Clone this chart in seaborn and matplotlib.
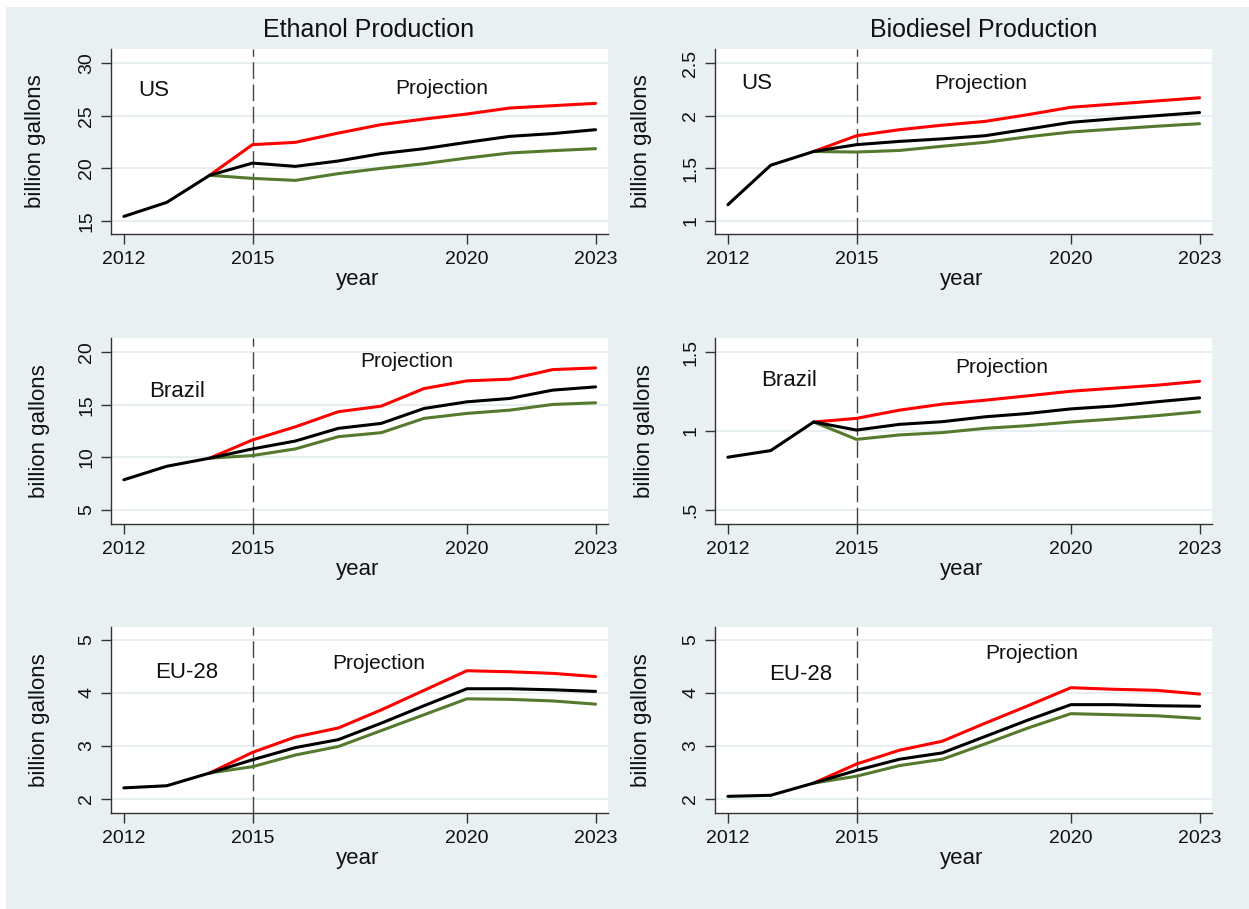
import matplotlib
matplotlib.use("Agg")
import matplotlib.pyplot as plt
import seaborn as sns
import pandas as pd
from matplotlib.patches import Rectangle
from matplotlib.ticker import FixedLocator, FixedFormatter

# ---------------- data ----------------
years = list(range(2012, 2024))
proj_years = list(range(2014, 2024))

eth_us_base = [15.44, 16.77, 19.34, 20.5, 20.19, 20.7, 21.4, 21.87, 22.47, 23.04, 23.3, 23.67]
eth_us_high = [19.34, 22.25, 22.47, 23.35, 24.15, 24.68, 25.16, 25.73, 25.95, 26.17]
eth_us_low = [19.34, 19.05, 18.86, 19.5, 20.0, 20.44, 20.98, 21.46, 21.68, 21.87]

bio_us_base = [1.155, 1.53, 1.66, 1.725, 1.756, 1.78, 1.81, 1.873, 1.937, 1.97, 2.0, 2.03]
bio_us_high = [1.66, 1.81, 1.867, 1.91, 1.946, 2.01, 2.08, 2.11, 2.14, 2.17]
bio_us_low = [1.66, 1.655, 1.67, 1.71, 1.747, 1.80, 1.845, 1.873, 1.90, 1.924]

eth_br_base = [7.87, 9.15, 9.92, 10.8, 11.55, 12.75, 13.22, 14.64, 15.27, 15.59, 16.38, 16.69]
eth_br_high = [9.92, 11.65, 12.9, 14.33, 14.86, 16.53, 17.26, 17.42, 18.33, 18.49]
eth_br_low = [9.92, 10.17, 10.8, 11.96, 12.34, 13.7, 14.17, 14.48, 15.02, 15.18]

bio_br_base = [0.834, 0.876, 1.057, 1.006, 1.042, 1.059, 1.09, 1.111, 1.14, 1.158, 1.185, 1.21]
bio_br_high = [1.057, 1.08, 1.132, 1.17, 1.195, 1.223, 1.252, 1.271, 1.29, 1.315]
bio_br_low = [1.057, 0.947, 0.975, 0.99, 1.017, 1.034, 1.057, 1.076, 1.097, 1.122]

eth_eu_base = [2.21, 2.25, 2.49, 2.74, 2.97, 3.12, 3.43, 3.76, 4.08, 4.08, 4.06, 4.03]
eth_eu_high = [2.49, 2.88, 3.17, 3.34, 3.68, 4.05, 4.42, 4.40, 4.37, 4.31]
eth_eu_low = [2.49, 2.61, 2.83, 2.99, 3.29, 3.59, 3.89, 3.88, 3.85, 3.79]

bio_eu_base = [2.05, 2.07, 2.30, 2.54, 2.75, 2.87, 3.18, 3.49, 3.78, 3.78, 3.76, 3.75]
bio_eu_high = [2.30, 2.66, 2.92, 3.09, 3.43, 3.76, 4.10, 4.07, 4.05, 3.98]
bio_eu_low = [2.30, 2.43, 2.63, 2.75, 3.04, 3.34, 3.61, 3.59, 3.57, 3.52]

x_ticks = [2012, 2015, 2020, 2023]
x_ticklabels = ["2012", "2015", "2020", "2023"]

yt_eth_us = [15, 20, 25, 30]
yl_eth_us = ["15", "20", "25", "30"]
yt_bio_us = [1, 1.5, 2, 2.5]
yl_bio_us = ["1", "1.5", "2", "2.5"]
yt_eth_br = [5, 10, 15, 20]
yl_eth_br = ["5", "10", "15", "20"]
yt_bio_br = [0.5, 1, 1.5]
yl_bio_br = [".5", "1", "1.5"]
yt_eu = [2, 3, 4, 5]
yl_eu = ["2", "3", "4", "5"]

col_titles = ["Ethanol Production", "Biodiesel Production"]
regions = ["US", "Brazil", "EU-28"]
proj_label = "Projection"
x_label = "year"
y_label = "billion gallons"

# ---------------- style ----------------
sns.set_style("white")
plt.rcParams["font.family"] = ["Liberation Sans", "DejaVu Sans"]

BG = "#e9f0f2"
GRID = "#e6eef1"
SPINE = "#333333"
RED = "#ff0000"
GREEN = "#557a2e"
BLACK = "#000000"

W, H = 1249, 909
fig = plt.figure(figsize=(W / 100, H / 100), dpi=100, facecolor="white")
fig.add_artist(Rectangle((6 / W, 0), 1 - 6 / W, 1 - 7 / H, transform=fig.transFigure,
                         facecolor=BG, edgecolor="none", zorder=-10))

col_x = [111 / W, 715 / W]
ax_w = 497 / W
row_y = [(49, 234), (338, 524), (627, 813)]

panels = [
    # row, col, base, high, low, yticks, ylabels, ylim, region text pos, projection text pos, ylabel x
    (0, 0, eth_us_base, eth_us_high, eth_us_low, yt_eth_us, yl_eth_us, (13.77, 31.33), (0.087, 0.773), (0.666, 0.784), -0.151),
    (0, 1, bio_us_base, bio_us_high, bio_us_low, yt_bio_us, yl_bio_us, (0.877, 2.633), (0.085, 0.816), (0.535, 0.816), -0.147),
    (1, 0, eth_br_base, eth_br_high, eth_br_low, yt_eth_br, yl_eth_br, (3.67, 21.33), (0.133, 0.71), (0.596, 0.871), -0.143),
    (1, 1, bio_br_base, bio_br_high, bio_br_low, yt_bio_br, yl_bio_br, (0.411, 1.589), (0.149, 0.774), (0.577, 0.839), -0.141),
    (2, 0, eth_eu_base, eth_eu_high, eth_eu_low, yt_eu, yl_eu, (1.736, 5.245), (0.153, 0.753), (0.539, 0.806), -0.143),
    (2, 1, bio_eu_base, bio_eu_high, bio_eu_low, yt_eu, yl_eu, (1.736, 5.245), (0.173, 0.747), (0.638, 0.86), -0.147),
]

for (r, c, base, high, low, yt, yl, ylim, reg_pos, proj_pos, ylx) in panels:
    top, bot = row_y[r]
    ax = fig.add_axes([col_x[c], 1 - bot / H, ax_w, (bot - top) / H])
    ax.set_facecolor("white")

    sns.lineplot(x=proj_years, y=high, ax=ax, color=RED, linewidth=2.2, estimator=None, sort=False)
    sns.lineplot(x=proj_years, y=low, ax=ax, color=GREEN, linewidth=2.2, estimator=None, sort=False)
    sns.lineplot(x=years, y=base, ax=ax, color=BLACK, linewidth=2.2, estimator=None, sort=False)

    ax.axvline(2015, color="#444444", linewidth=1.0, dashes=(12, 4), zorder=1)

    ax.set_xlim(2011.70, 2023.29)
    ax.set_ylim(*ylim)
    ax.xaxis.set_major_locator(FixedLocator(x_ticks))
    ax.xaxis.set_major_formatter(FixedFormatter(x_ticklabels))
    ax.yaxis.set_major_locator(FixedLocator(yt))
    ax.yaxis.set_major_formatter(FixedFormatter(yl))

    ax.grid(axis="y", color=GRID, linewidth=1.3)
    ax.grid(axis="x", visible=False)
    ax.set_axisbelow(True)

    for s in ["top", "right"]:
        ax.spines[s].set_visible(False)
    for s in ["left", "bottom"]:
        ax.spines[s].set_color(SPINE)
        ax.spines[s].set_linewidth(1.0)

    ax.tick_params(axis="both", direction="out", length=7.5, width=1.0, color=SPINE,
                   labelsize=14, labelcolor="#111111")
    ax.tick_params(axis="x", pad=5, bottom=True)
    ax.tick_params(axis="y", pad=4, left=True, labelrotation=90)
    for lab in ax.get_yticklabels():
        lab.set_va("center")
        lab.set_ha("right")

    ax.set_xlabel(x_label, fontsize=16, color="#111111", va="center")
    ax.xaxis.set_label_coords(0.497, -0.247)
    ax.set_ylabel(y_label, fontsize=16, color="#111111", va="center")
    ax.yaxis.set_label_coords(ylx, 0.5)

    ax.text(reg_pos[0], reg_pos[1], regions[r], transform=ax.transAxes, fontsize=16,
            ha="center", va="center", color="#111111")
    ax.text(proj_pos[0], proj_pos[1], proj_label, transform=ax.transAxes, fontsize=15,
            ha="center", va="center", color="#111111")

fig.text(369 / W, 1 - 30 / H, col_titles[0], fontsize=18, ha="center", va="center", color="#111111")
fig.text(984 / W, 1 - 30 / H, col_titles[1], fontsize=18, ha="center", va="center", color="#111111")

fig.savefig("out.png", dpi=100, facecolor=fig.get_facecolor())
